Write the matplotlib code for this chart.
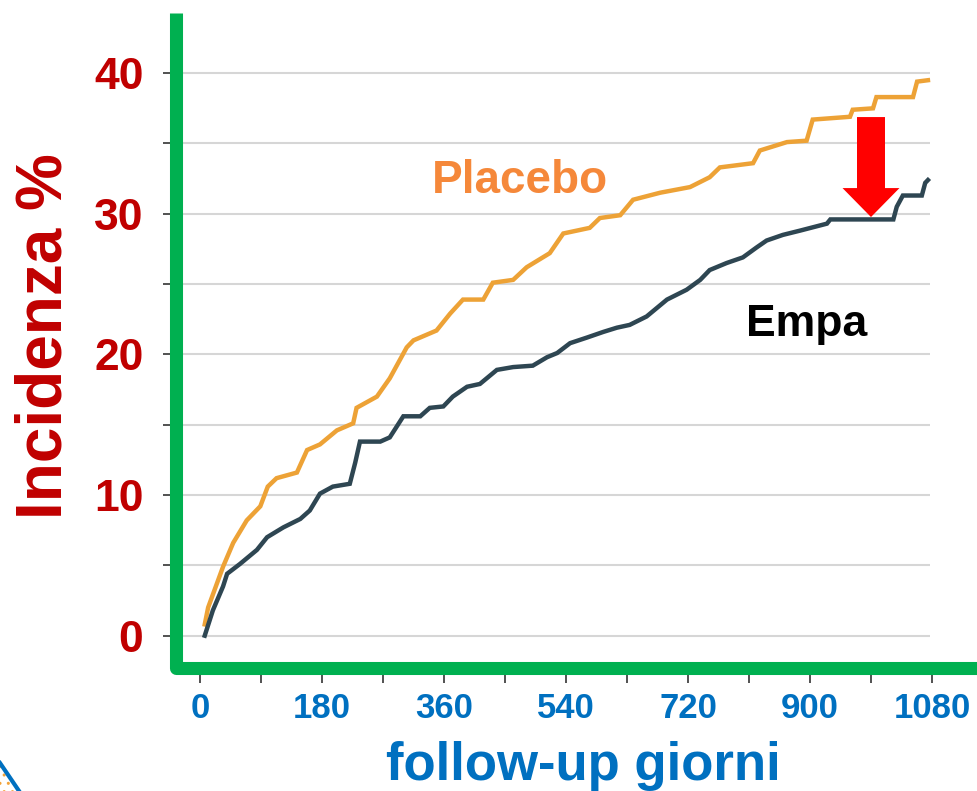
import numpy as np
import matplotlib
matplotlib.use("Agg")
import matplotlib.pyplot as plt
from matplotlib.lines import Line2D
from matplotlib.patches import FancyArrow, Polygon

plt.rcParams['font.family'] = ['Liberation Sans', 'DejaVu Sans']

# Curve values (days, incidence %)
placebo_days = [7, 12, 34, 49, 69, 89, 100, 113, 143, 158, 177, 202, 226, 231, 261,
                280, 305, 315, 349, 369, 388, 418, 432, 462, 482, 516, 536, 575, 590,
                620, 639, 679, 723, 752, 767, 816, 826, 866, 895, 904, 959, 963, 993,
                998, 1052, 1058, 1074]
placebo_vals = [0.8, 2.0, 4.9, 6.6, 8.2, 9.2, 10.6, 11.2, 11.6, 13.2, 13.6, 14.6, 15.1, 16.2, 17.0,
                18.3, 20.5, 21.0, 21.7, 22.9, 23.9, 23.9, 25.1, 25.3, 26.2, 27.2, 28.6, 29.0, 29.7,
                29.9, 31.0, 31.5, 31.9, 32.6, 33.3, 33.6, 34.5, 35.1, 35.2, 36.7, 36.9, 37.4, 37.5,
                38.3, 38.3, 39.4, 39.5]

empa_days = [7, 19, 34, 40, 59, 84, 99, 123, 148, 162, 177, 196, 221, 229, 236, 266,
             280, 300, 325, 339, 359, 373, 394, 413, 438, 462, 491, 512, 527, 546, 571,
             595, 615, 634, 659, 689, 718, 738, 752, 777, 801, 821, 836, 860, 885, 925,
             930, 1023, 1028, 1037, 1065, 1070, 1074]
empa_vals = [0.0, 1.8, 3.5, 4.4, 5.1, 6.1, 7.0, 7.7, 8.3, 8.9, 10.1, 10.6, 10.8, 12.3, 13.8, 13.8,
             14.1, 15.6, 15.6, 16.2, 16.3, 17.0, 17.7, 17.9, 18.9, 19.1, 19.2, 19.8, 20.1, 20.8, 21.2,
             21.6, 21.9, 22.1, 22.7, 23.9, 24.6, 25.3, 26.0, 26.5, 26.9, 27.6, 28.1, 28.5, 28.8, 29.3,
             29.6, 29.6, 30.5, 31.3, 31.3, 32.2, 32.4]

x_major = [0, 180, 360, 540, 720, 900, 1080]
x_minor = [90, 270, 450, 630, 810, 990]
y_major = [0, 10, 20, 30, 40]
y_minor = [5, 15, 25, 35]
grid_levels = [0, 5, 10, 15, 20, 25, 30, 35, 40]

GREEN = '#00B050'
DARK_RED = '#C00000'
BLUE = '#0070C0'

W, H = 977, 791
fig = plt.figure(figsize=(W / 100, H / 100), dpi=100)
ax = fig.add_axes([176 / W, 1 - 668 / H, (W - 176) / W, (668 - 13) / H])
ax.set_xlim(-35.4, 1146.4)
ax.set_ylim(-2.30, 44.28)
for s in ax.spines.values():
    s.set_visible(False)

# Grid lines
ax.hlines(grid_levels, -29.5, 1077, color='#d6d6d6', lw=1.5, zorder=1)

# Curves
ax.plot(placebo_days, placebo_vals, color='#EDA236', lw=3.2, zorder=3,
        solid_joinstyle='miter')
ax.plot(empa_days, empa_vals, color='#2E4652', lw=3.2, zorder=4,
        solid_joinstyle='miter')

# Labels in plot
ax.text(432 / W, 1 - 193 / H, 'Placebo', transform=fig.transFigure, color='#F5883A',
        fontsize=33, fontweight='bold', ha='left', va='baseline')
ax.text(746 / W, 1 - 336 / H, 'Empa', transform=fig.transFigure, color='black',
        fontsize=32, fontweight='bold', ha='left', va='baseline')

# Red arrow between the curves
arrow = FancyArrow(990, 36.88, 0, -7.11, width=41.3, head_width=84, head_length=2.06,
                   length_includes_head=True, color='#FF0000', lw=0, zorder=6)
ax.add_patch(arrow)

# Ticks
ax.set_xticks(x_major)
ax.set_xticks(x_minor, minor=True)
ax.set_yticks(y_major)
ax.set_yticks(y_minor, minor=True)
ax.tick_params(axis='x', which='both', direction='out', length=10.8, width=1.2,
               color='#333333', pad=6.5, labelsize=25, labelcolor=BLUE)
ax.tick_params(axis='y', which='both', direction='out', length=9.4, width=1.2,
               color='#333333', pad=14, labelsize=32, labelcolor=DARK_RED)
for lab in ax.get_xticklabels() + ax.get_yticklabels():
    lab.set_fontweight('bold')

# Green axis lines
fig.add_artist(Line2D([176 / W, 176 / W, 1.02], [1 - 13 / H, 1 - 668 / H, 1 - 668 / H],
                      color=GREEN, lw=9.4, solid_joinstyle='round',
                      solid_capstyle='butt', zorder=5))

# Axis titles
fig.text(45 / W, 1 - 336 / H, 'Incidenza %', rotation=90, color=DARK_RED,
         fontsize=46, fontweight='bold', ha='center', va='center')
fig.text(583 / W, 1 - 780 / H, 'follow-up giorni', color=BLUE,
         fontsize=38, fontweight='bold', ha='center', va='baseline')

# Corner logo fragment
fig.add_artist(Polygon([(0, 1 - 765 / H), (18 / W, 0), (0, 0)], closed=True,
                       facecolor='white', edgecolor='#F2A33A', hatch='..', lw=0,
                       transform=fig.transFigure))
fig.add_artist(Line2D([0, 19 / W], [1 - 763 / H, 0], color=BLUE, lw=3))

fig.savefig('out.png', dpi=100)
